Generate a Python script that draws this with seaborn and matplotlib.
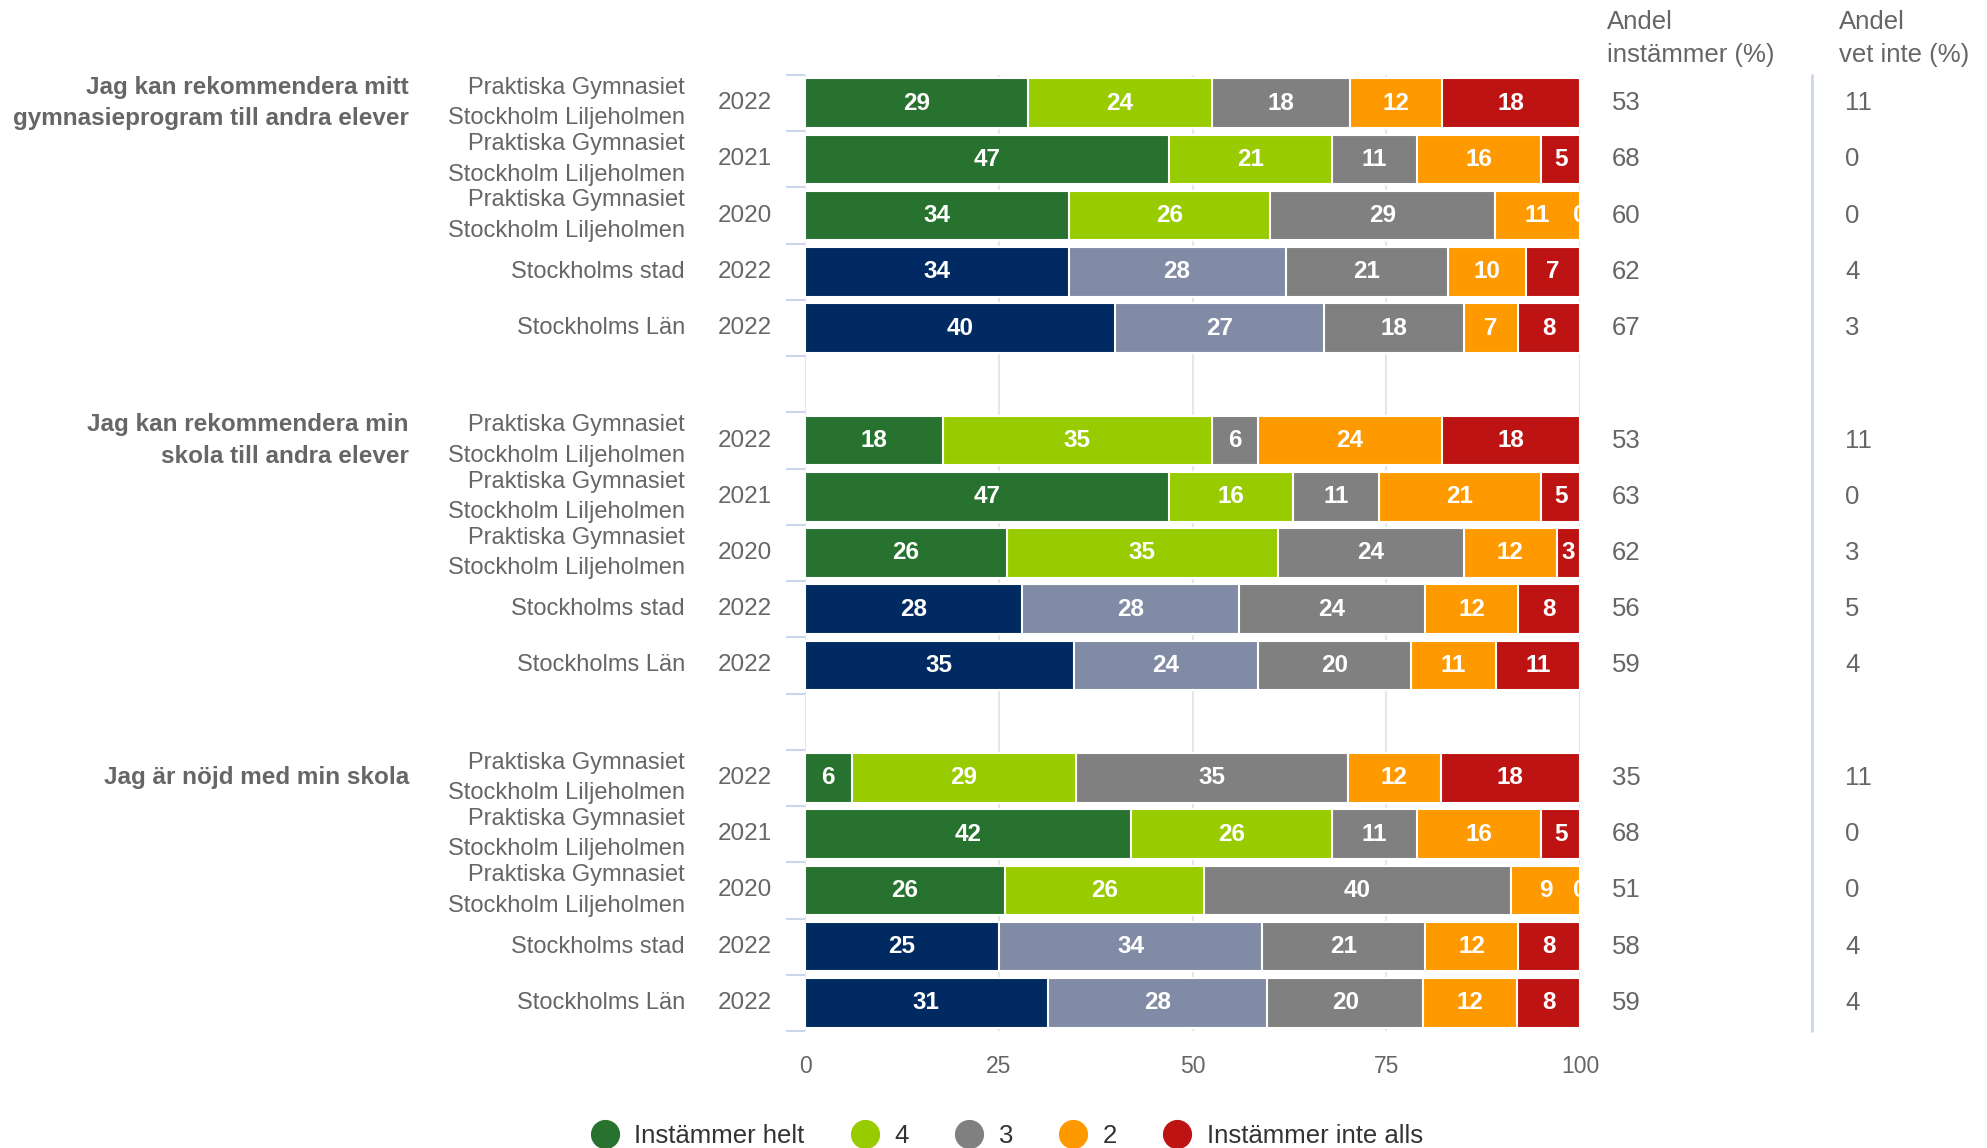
import numpy as np
import pandas as pd
import matplotlib
matplotlib.use("Agg")
import matplotlib.pyplot as plt
import seaborn as sns
from matplotlib.lines import Line2D

# --- data ---
questions = [
    "Jag kan rekommendera mitt\ngymnasieprogram till andra elever",
    "Jag kan rekommendera min\nskola till andra elever",
    "Jag är nöjd med min skola",
]
units = ["Praktiska Gymnasiet\nStockholm Liljeholmen"] * 3 + ["Stockholms stad", "Stockholms Län"]
years = ["2022", "2021", "2020", "2022", "2022"]
levels = ["Instämmer helt", "4", "3", "2", "Instämmer inte alls"]

helt = [29, 47, 34, 34, 40, 18, 47, 26, 28, 35, 6, 42, 26, 25, 31]
fyra = [24, 21, 26, 28, 27, 35, 16, 35, 28, 24, 29, 26, 26, 34, 28]
tre = [18, 11, 29, 21, 18, 6, 11, 24, 24, 20, 35, 11, 40, 21, 20]
tva = [12, 16, 11, 10, 7, 24, 21, 12, 12, 11, 12, 16, 9, 12, 12]
inte = [18, 5, 0, 7, 8, 18, 5, 3, 8, 11, 18, 5, 0, 8, 8]
andel_instammer = [53, 68, 60, 62, 67, 53, 63, 62, 56, 59, 35, 68, 51, 58, 59]
andel_vet_inte = [11, 0, 0, 4, 3, 11, 0, 3, 5, 4, 11, 0, 0, 4, 4]

# colours
school_cols = ["#26722e", "#99cc00"]
region_cols = ["#002a61", "#818ba6"]
rest_cols = ["#808080", "#ff9900", "#bd1313"]
legend_cols = ["#26722e", "#99cc00", "#808080", "#ff9900", "#bd1313"]
text_col = "#666666"

sns.set_theme(style="white")
plt.rcParams["font.family"] = ["Liberation Sans", "DejaVu Sans"]

# rows, with an empty slot between question groups
keys = [f"r{i}" for i in range(15)]
order = keys[0:5] + ["gap0"] + keys[5:10] + ["gap1"] + keys[10:15]
ypos = {k: order.index(k) for k in keys}

vals = np.array([helt, fyra, tre, tva, inte], dtype=float).T
shares = vals / vals.sum(axis=1, keepdims=True) * 100
cum = np.cumsum(shares, axis=1)

fig = plt.figure(figsize=(19.87, 11.48), dpi=100)
ax = fig.add_axes([805 / 1987, 1 - 1031 / 1148, 775 / 1987, 956 / 1148])

# stacked bars: draw cumulative totals from the largest down
for k in range(4, -1, -1):
    pal = {}
    for i, key in enumerate(keys):
        if k < 2:
            pal[key] = school_cols[k] if i % 5 < 3 else region_cols[k]
        else:
            pal[key] = rest_cols[k - 2]
    df = pd.DataFrame({"row": keys, "cum": cum[:, k]})
    sns.barplot(data=df, x="cum", y="row", hue="row", order=order, palette=pal,
                orient="h", dodge=False, legend=False, errorbar=None, width=0.88,
                saturation=1, edgecolor="white", linewidth=1.5, ax=ax)

# segment labels
for i, key in enumerate(keys):
    start = 0
    for k in range(5):
        c = start + shares[i, k] / 2
        ax.text(c, ypos[key], str(int(vals[i, k])), ha="center", va="center",
                color="white", fontsize=17.5, fontweight="bold", clip_on=True)
        start += shares[i, k]

ax.set_xlim(0, 100)
ax.set_ylim(len(order) - 0.5, -0.5)
ax.set_xticks([0, 25, 50, 75, 100])
ax.set_xticklabels(["0", "25", "50", "75", "100"])
ax.set_yticks(np.arange(-0.5, len(order), 1))
ax.set_yticklabels([])
ax.tick_params(axis="x", length=0, pad=17, labelsize=16.5, labelcolor=text_col)
ax.tick_params(axis="y", length=14, width=1.5, color="#ccd6eb", left=True)
ax.set_xlabel("")
ax.set_ylabel("")
for s in ax.spines.values():
    s.set_visible(False)
ax.xaxis.grid(True, color="#e6e6e6", linewidth=1.5)
ax.yaxis.grid(False)
ax.set_axisbelow(True)

tr = ax.get_yaxis_transform()
for i, key in enumerate(keys):
    y = ypos[key]
    ax.text(-0.155, y, units[i % 5], transform=tr, ha="right", va="center",
            fontsize=17, color=text_col, linespacing=1.5)
    ax.text(-0.112, y, years[i % 5], transform=tr, ha="left", va="center",
            fontsize=17.5, color=text_col)
    ax.text(1.041, y, str(andel_instammer[i]), transform=tr, ha="left", va="center",
            fontsize=18.5, color=text_col)
    ax.text(1.342, y, str(andel_vet_inte[i]), transform=tr, ha="left", va="center",
            fontsize=18.5, color=text_col)

for g, q in enumerate(questions):
    ax.text(-0.511, ypos[keys[g * 5]], q, transform=tr, ha="right", va="center",
            fontsize=17.5, fontweight="bold", color=text_col, linespacing=1.45)

fig.text(1607 / 1987, 1 - 10 / 1148, "Andel\ninstämmer (%)", ha="left", va="top",
         fontsize=18.5, color=text_col, linespacing=1.45)
fig.text(1839 / 1987, 1 - 10 / 1148, "Andel\nvet inte (%)", ha="left", va="top",
         fontsize=18.5, color=text_col, linespacing=1.45)

ax.plot([1.299, 1.299], [0, 1], transform=ax.transAxes, color="#ccd6eb",
        linewidth=2, clip_on=False)

handles = [Line2D([0], [0], marker="o", linestyle="", markersize=20,
                  markerfacecolor=c, markeredgecolor=c) for c in legend_cols]
leg = fig.legend(handles, levels, loc="center", bbox_to_anchor=(0.507, 12 / 1148),
                 ncol=5, frameon=False, fontsize=18.5, handletextpad=0.65,
                 columnspacing=1.85, handlelength=1.0)
for t in leg.get_texts():
    t.set_color("#333333")

fig.savefig("out.png", dpi=100)
